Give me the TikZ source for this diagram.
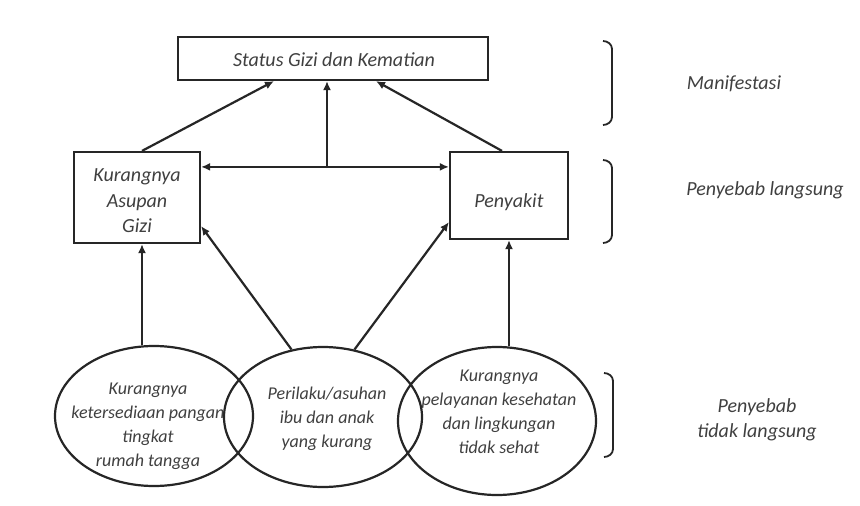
\documentclass[tikz,border=0pt]{standalone}
\usepackage{fontspec}
\setmainfont{Carlito}
\usetikzlibrary{shapes.geometric,arrows.meta,calc}
\tikzset{
  box/.style={draw=black!85,line width=2.2pt,rectangle,inner sep=0pt},
  oval/.style={draw=black!85,line width=2.2pt,ellipse,minimum width=198pt,minimum height=140pt,inner sep=0pt},
  txt/.style={text=black!75,font=\fontsize{20}{25.5}\selectfont\itshape,align=center,inner sep=0pt},
  small/.style={text=black!75,font=\fontsize{18}{24}\selectfont\itshape,align=center,inner sep=0pt},
  arr/.style={draw=black!85,line width=2.2pt,-{Latex[length=9pt,width=8pt]}},
  darr/.style={draw=black!85,line width=2.2pt,{Latex[length=9pt,width=8pt]}-{Latex[length=9pt,width=8pt]}},
  brk/.style={draw=black!85,line width=1.8pt}
}
\begin{document}
\begin{tikzpicture}[x=1pt,y=-1pt]
\useasboundingbox (0,0) rectangle (860,506);
\fill[white] (0,0) rectangle (860,506);
% boxes
\node[box,minimum width=310pt,minimum height=43pt] (tb) at (333,58.5) {};
\node[txt] (tbt) at (334,60) {Status Gizi dan Kematian};
\node[box,minimum width=126pt,minimum height=91pt] (lb) at (137,197.5) {};
\node[txt] (lbt) at (137,201) {Kurangnya\\Asupan\\Gizi};
\node[box,minimum width=118pt,minimum height=87pt] (rb) at (509,195.5) {};
\node[txt] (rbt) at (509,202) {Penyakit};
% ellipses
\node[oval] (e1) at (154,416) {};
\node[oval] (e2) at (323,417) {};
\node[oval,minimum height=148pt] (e3) at (497,421) {};
\node[small] (e1t) at (148,426) {Kurangnya\\ketersediaan pangan\\tingkat\\rumah tangga};
\node[small] (e2t) at (327,419) {Perilaku/asuhan\\ibu dan anak\\yang kurang};
\node[small] (e3t) at (499,412) {Kurangnya\\pelayanan kesehatan\\dan lingkungan\\tidak sehat};
% connectors
\coordinate (dl) at ($(lb.north east)+(0,16)$);
\coordinate (dr) at ($(rb.north west)+(0,16)$);
\coordinate (dm) at (327,168);
\coordinate (la) at ($(lb.south)+(5,0)$);
\draw[darr] (dl) -- (dr);
\draw[arr] (dm) -- (dm |- tb.south);
\draw[arr] ($(lb.north)+(5,0)$) -- ($(tb.south)+(-59,0)$);
\draw[arr] ($(rb.north)+(-7,0)$) -- ($(tb.south)+(43,0)$);
\draw[arr] (la |- e1.north) -- (la);
\draw[arr] (e2.115) -- ($(lb.south east)+(0,-18)$);
\draw[arr] (e2.65) -- ($(rb.south west)+(0,-18)$);
\draw[arr] (rb.south |- e3.north) -- (rb.south);
% brackets
\draw[brk] (603,41) to[out=0,in=90] (612,49) -- (612,117) to[out=-90,in=0] (603,125);
\draw[brk] (603,160) to[out=0,in=90] (612,168) -- (612,235) to[out=-90,in=0] (603,243);
\draw[brk] (604,373) to[out=0,in=90] (613,381) -- (613,449) to[out=-90,in=0] (604,457);
% labels
\node[txt] (l1) at (734,84) {Manifestasi};
\node[txt] (l2) at (765,190) {Penyebab langsung};
\node[txt] (l3) at (757,420) {Penyebab\\tidak langsung};
\end{tikzpicture}
\end{document}
